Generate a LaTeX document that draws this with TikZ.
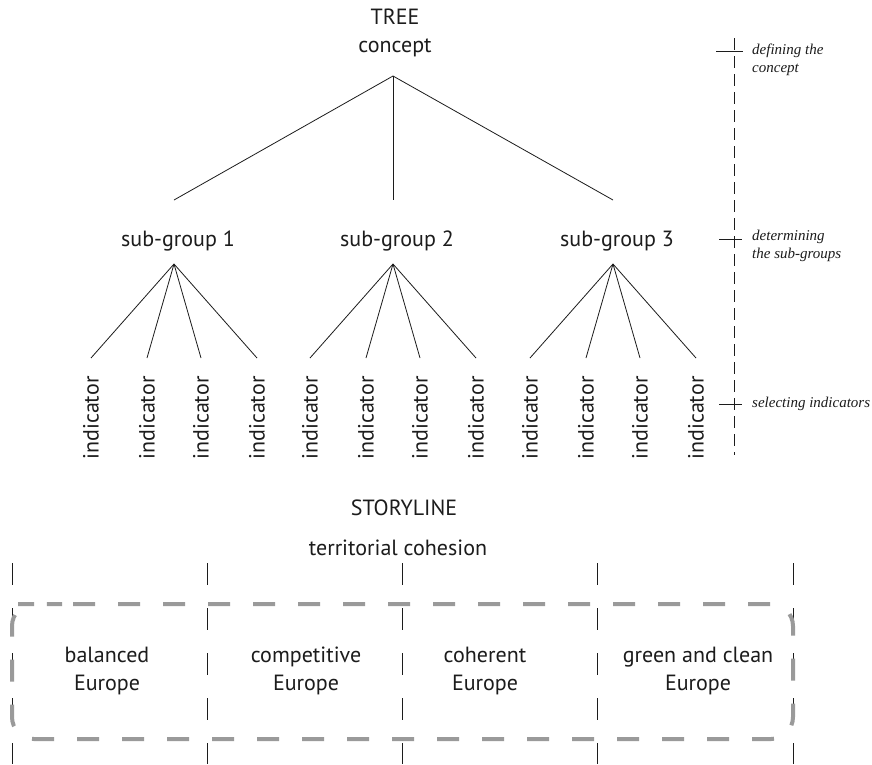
\documentclass[tikz,border=0pt]{standalone}
\usepackage{fontspec}
\setmainfont{PT Sans}
\newfontfamily\notefont{Liberation Serif}
\definecolor{ink}{HTML}{1C1C1C}
\definecolor{boxgray}{HTML}{9A9A9A}
\begin{document}
\begin{tikzpicture}[x=1pt,y=-1pt,
  txt/.style={inner sep=0pt, text=ink, font=\fontsize{22}{28}\selectfont, align=center},
  note/.style={inner sep=0pt, text=ink, anchor=west, align=left, font=\notefont\itshape\fontsize{15}{18}\selectfont},
  branch/.style={draw=ink, line width=0.8pt},
  tick/.style={draw=ink, line width=0.8pt},
  axis/.style={draw=ink, line width=0.8pt, dash pattern=on 12pt off 6pt},
  sep/.style={draw=ink, line width=0.7pt, dash pattern=on 22pt off 23pt},
  gbox/.style={draw=boxgray, line width=4pt, dash pattern=on 22pt off 23pt, dash phase=34pt, rounded corners=22pt}]
\useasboundingbox (0,0) rectangle (872,764);
\fill[white] (0,0) rectangle (872,764);

% tree header
\node[txt] (tree) at (395,17) {TREE};
\node[txt] (concept) at (395,48) {concept};
\coordinate (top) at (393,76);

% sub-groups
\foreach \i/\x in {1/174, 2/393, 3/613}{
  \coordinate (sgtop\i) at (\x,200);
  \node[txt] (sg\i) at (\x+4,241) {sub-group \i};
  \coordinate (sgapex\i) at (\x,264);
  \draw[branch] (top) -- (sgtop\i);
  \foreach \j/\dx in {1/-83, 2/-27, 3/27, 4/83}{
    \coordinate (ind\i\j top) at (\x+\dx,358);
    \node[txt, rotate=90] (ind\i\j) at (\x+\dx,418) {indicator};
    \draw[branch] (sgapex\i) -- (ind\i\j top);
  }
}

% right-hand steps
\coordinate (axtop) at (734,38);
\coordinate (axbot) at (734,455);
\draw[axis] (axtop) -- (axbot);
\coordinate (t1a) at (716,51); \coordinate (t1b) at (743,51);
\coordinate (t2a) at (719,239); \coordinate (t2b) at (742,239);
\coordinate (t3a) at (719,404); \coordinate (t3b) at (742,404);
\draw[tick] (t1a) -- (t1b);
\draw[tick] (t2a) -- (t2b);
\draw[tick] (t3a) -- (t3b);
\node[note] (n1) at (752,60) {defining the\\concept};
\node[note] (n2) at (752,246) {determining\\the sub-groups};
\node[note] (n3) at (752,404) {selecting indicators};

% storyline
\node[txt] (story) at (404,508) {STORYLINE};
\node[txt] (cohesion) at (398,548) {territorial cohesion};

\foreach \k/\x in {1/12, 2/207, 3/402, 4/597, 5/793}{
  \coordinate (s\k a) at (\x,563);
  \coordinate (s\k b) at (\x,764);
  \draw[sep] (s\k a) -- (s\k b);
}

\draw[gbox] (40,604) -- (793,604) -- (793,739) -- (12,739) -- (12,604) -- cycle;

\node[txt] (bal) at (107,671) {balanced\\Europe};
\node[txt] (comp) at (306,671) {competitive\\Europe};
\node[txt] (coh) at (485,671) {coherent\\Europe};
\node[txt] (green) at (698,671) {green and clean\\Europe};
\end{tikzpicture}
\end{document}
